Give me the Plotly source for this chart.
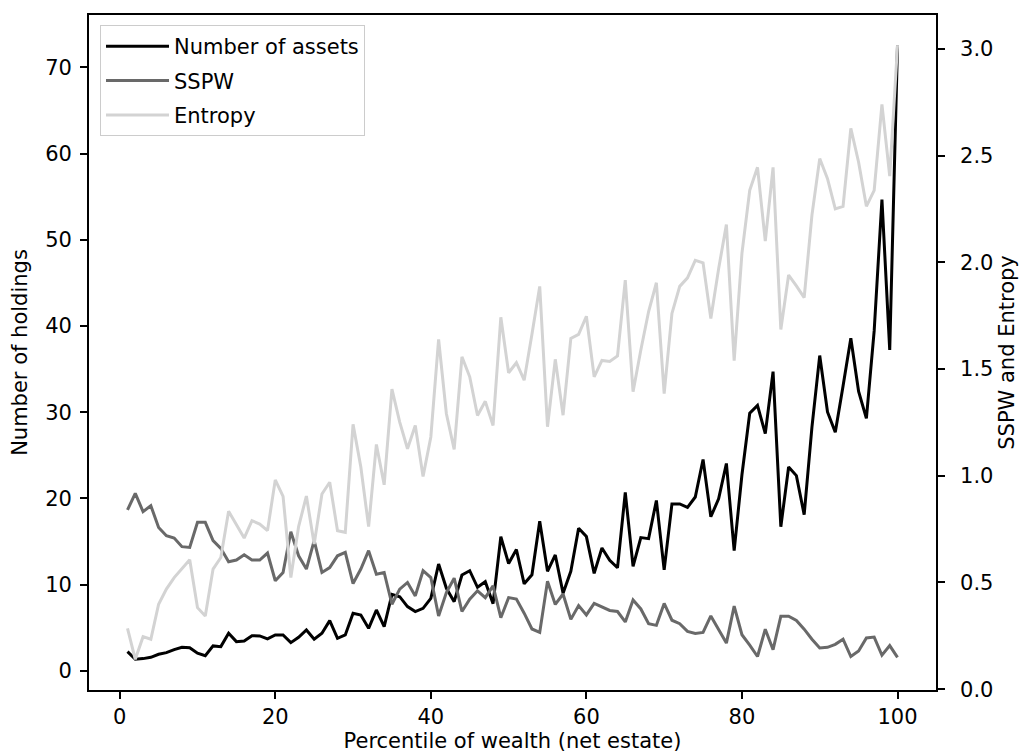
import plotly.graph_objects as go

percentile = list(range(1, 101))

num_assets = [
    2.24, 1.35, 1.43, 1.58, 1.93, 2.12, 2.47, 2.74, 2.70, 2.05,
    1.77, 2.90, 2.82, 4.37, 3.40, 3.48, 4.09, 4.06, 3.71, 4.17,
    4.17, 3.28, 3.90, 4.75, 3.67, 4.37, 5.83, 3.79, 4.17, 6.68,
    6.49, 4.94, 7.07, 5.14, 8.88, 8.61, 7.46, 6.88, 7.26, 8.42,
    12.40, 9.58, 8.03, 11.12, 11.62, 9.70, 10.35, 7.80, 15.56, 12.46,
    14.08, 10.10, 11.15, 17.35, 11.55, 13.45, 9.02, 11.55, 16.55, 15.58,
    11.31, 14.25, 12.84, 11.96, 20.70, 12.12, 15.46, 15.34, 19.77, 11.72,
    19.37, 19.37, 18.97, 20.17, 24.52, 17.88, 19.95, 24.06, 13.95, 22.75,
    29.88, 30.79, 27.52, 34.71, 16.72, 23.65, 22.65, 18.12, 28.27, 36.57,
    30.03, 27.67, 33.05, 38.58, 32.40, 29.28, 39.43, 54.66, 37.22, 72.50,
]

sspw = [
    0.840, 0.918, 0.832, 0.860, 0.758, 0.719, 0.708, 0.668, 0.664, 0.782,
    0.782, 0.696, 0.660, 0.597, 0.605, 0.630, 0.605, 0.605, 0.638, 0.508,
    0.547, 0.738, 0.625, 0.563, 0.696, 0.547, 0.570, 0.625, 0.641, 0.495,
    0.563, 0.649, 0.539, 0.547, 0.398, 0.469, 0.500, 0.437, 0.555, 0.523,
    0.343, 0.453, 0.520, 0.364, 0.422, 0.461, 0.429, 0.484, 0.335, 0.429,
    0.422, 0.356, 0.282, 0.266, 0.506, 0.397, 0.446, 0.327, 0.392, 0.348,
    0.402, 0.385, 0.369, 0.364, 0.315, 0.418, 0.376, 0.307, 0.299, 0.402,
    0.323, 0.307, 0.271, 0.261, 0.266, 0.343, 0.282, 0.216, 0.389, 0.255,
    0.206, 0.153, 0.281, 0.185, 0.342, 0.342, 0.322, 0.281, 0.234, 0.193,
    0.196, 0.210, 0.234, 0.153, 0.179, 0.240, 0.244, 0.159, 0.204, 0.149,
]

entropy = [
    0.285, 0.140, 0.246, 0.234, 0.398, 0.469, 0.523, 0.567, 0.606, 0.382,
    0.343, 0.563, 0.617, 0.834, 0.774, 0.708, 0.790, 0.774, 0.743, 0.981,
    0.904, 0.523, 0.762, 0.905, 0.680, 0.915, 0.970, 0.743, 0.735, 1.241,
    1.041, 0.762, 1.147, 0.958, 1.406, 1.252, 1.127, 1.236, 0.997, 1.182,
    1.639, 1.291, 1.124, 1.558, 1.464, 1.283, 1.349, 1.236, 1.743, 1.483,
    1.530, 1.448, 1.663, 1.888, 1.230, 1.546, 1.284, 1.644, 1.663, 1.748,
    1.464, 1.541, 1.536, 1.562, 1.917, 1.394, 1.590, 1.770, 1.905, 1.385,
    1.761, 1.888, 1.928, 2.010, 1.998, 1.737, 1.970, 2.178, 1.540, 2.043,
    2.338, 2.446, 2.100, 2.446, 1.686, 1.941, 1.890, 1.835, 2.222, 2.487,
    2.393, 2.251, 2.263, 2.629, 2.470, 2.263, 2.338, 2.741, 2.405, 3.016,
]

x_ticks = [0, 20, 40, 60, 80, 100]
left_ticks = [0, 10, 20, 30, 40, 50, 60, 70]
right_ticks = [0.0, 0.5, 1.0, 1.5, 2.0, 2.5, 3.0]

FONT = "DejaVu Sans"
FS = 21
LW = 3.0

fig = go.Figure()
fig.add_trace(go.Scatter(x=percentile, y=num_assets, mode="lines", name="Number of assets",
                         line=dict(color="#000000", width=LW), yaxis="y", legendgroup="a"))
fig.add_trace(go.Scatter(x=percentile, y=sspw, mode="lines", name="SSPW",
                         line=dict(color="#696969", width=LW), yaxis="y2", legendgroup="b"))
fig.add_trace(go.Scatter(x=percentile, y=entropy, mode="lines", name="Entropy",
                         line=dict(color="#d3d3d3", width=LW), yaxis="y2", legendgroup="c"))

axis_common = dict(
    showline=True, linecolor="black", linewidth=1.7,
    ticks="outside", ticklen=7, tickwidth=1.6, tickcolor="black",
    showgrid=False, zeroline=False, automargin=False,
    tickfont=dict(family=FONT, size=FS, color="black"),
)

fig.update_layout(
    width=1019, height=756,
    margin=dict(l=89, r=83, t=15, b=66, autoexpand=False),
    paper_bgcolor="white", plot_bgcolor="white",
    font=dict(family=FONT, size=FS, color="black"),
    showlegend=True,
    legend=dict(x=0.013, y=0.985, xanchor="left", yanchor="top",
                bgcolor="rgba(255,255,255,0.8)", bordercolor="#cccccc", borderwidth=1,
                font=dict(family=FONT, size=FS, color="black"),
                itemwidth=63, entrywidth=262, entrywidthmode="pixels",
                traceorder="grouped", tracegroupgap=4),
    xaxis=dict(range=[-3.95, 104.95], tickvals=x_ticks, mirror=True,
               ticklabelstandoff=0,
               title=dict(text="Percentile of wealth (net estate)", font=dict(family=FONT, size=FS), standoff=5),
               **axis_common),
    yaxis=dict(range=[-2.21, 76.06], tickvals=left_ticks,
               ticklabelstandoff=4,
               title=dict(text="Number of holdings", font=dict(family=FONT, size=FS), standoff=12),
               **axis_common),
    yaxis2=dict(range=[-0.004, 3.160], tickvals=right_ticks, tickformat=".1f",
                overlaying="y", side="right", anchor="x",
                ticklabelstandoff=11,
                title=dict(text="SSPW and Entropy", font=dict(family=FONT, size=FS), standoff=12),
                **axis_common),
)

fig.write_html("out.html", config={"displayModeBar": False},
               post_script="document.body.style.margin='0px';")
